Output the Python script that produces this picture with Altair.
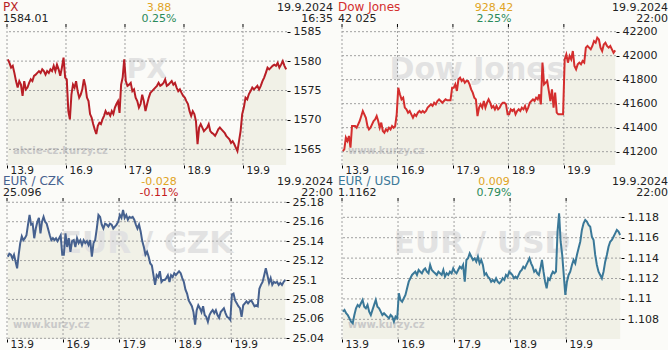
import json
import altair as alt
import pandas as pd

# ---------------- data ----------------
DAY_LABELS = ["13.9", "16.9", "17.9", "18.9", "19.9"]

PX_DAYS = [
    [1580.3, 1579.7, 1578.9, 1579.2, 1578.0, 1576.6, 1575.5, 1576.6, 1576.0, 1574.1, 1576.6, 1575.2,
     1575.5, 1576.3, 1576.9, 1576.6, 1577.5, 1577.7, 1578.0, 1578.3, 1578.0, 1578.6, 1578.3, 1577.7,
     1578.3, 1578.0, 1578.6, 1578.3, 1579.2, 1578.3, 1579.4, 1578.6, 1577.5, 1578.9, 1580.6, 1577.2],
    [1576.9, 1571.5, 1570.1, 1574.3, 1576.0, 1575.5, 1576.6, 1574.9, 1573.8, 1574.3, 1575.2, 1576.9,
     1575.8, 1573.8, 1573.2, 1571.0, 1570.4, 1569.3, 1568.4, 1567.6, 1569.0, 1569.5, 1569.3, 1570.1,
     1570.7, 1571.5, 1571.0, 1571.2, 1570.7, 1571.5, 1571.0, 1572.1, 1572.7, 1573.2, 1571.2, 1576.0,
     1577.2, 1580.3],
    [1576.6, 1575.8, 1576.0, 1576.3, 1574.9, 1575.2, 1573.8, 1573.2, 1572.1, 1572.7, 1574.3, 1573.2,
     1571.5, 1572.7, 1573.8, 1574.6, 1574.9, 1575.2, 1575.5, 1575.8, 1576.3, 1575.8, 1576.0, 1576.3,
     1576.9, 1575.8, 1576.0, 1576.3, 1576.6, 1576.0, 1576.3, 1575.5, 1574.9, 1575.2, 1574.6, 1574.1],
    [1573.8, 1573.2, 1572.7, 1571.5, 1570.7, 1571.5, 1571.0, 1569.8, 1565.9, 1568.7, 1569.3, 1568.7,
     1568.1, 1568.4, 1568.7, 1569.3, 1568.1, 1567.8, 1567.6, 1567.3, 1567.8, 1568.4, 1568.7, 1568.4,
     1568.1, 1567.8, 1567.3, 1567.0, 1566.7, 1566.1, 1566.4, 1565.9, 1565.3, 1564.7, 1566.4, 1568.1,
     1571.0],
    [1572.1, 1573.8, 1573.5, 1574.4, 1574.9, 1575.5, 1575.2, 1575.5, 1575.8, 1575.2, 1575.8, 1576.6,
     1577.2, 1578.0, 1578.9, 1578.6, 1578.9, 1579.2, 1579.4, 1579.2, 1579.7, 1578.9, 1579.4, 1580.0,
     1579.2, 1578.6],
]
PX_LAST_FRAC = 0.746
PX_YDOM = [1562.34, 1585.8]
PX_TICKS = [1565, 1570, 1575, 1580, 1585]

DJ_DAYS = [
    [41206, 41219, 41317, 41289, 41331, 41233, 41414, 41414, 41414, 41400, 41428, 41456, 41497, 41539,
     41511, 41483, 41414, 41386, 41400, 41428, 41456, 41469, 41497, 41456, 41400, 41442, 41372, 41358,
     41386, 41372, 41400, 41386, 41414, 41400, 41414, 41511],
    [41733, 41678, 41636, 41650, 41567, 41553, 41525, 41539, 41511, 41483, 41511, 41497, 41525, 41539,
     41525, 41539, 41525, 41539, 41567, 41581, 41594, 41581, 41608, 41594, 41622, 41636, 41622, 41608,
     41622, 41636, 41628, 41628, 41628, 41733],
    [41733, 41761, 41706, 41803, 41817, 41789, 41803, 41775, 41789, 41789, 41761, 41719, 41692, 41650,
     41636, 41497, 41567, 41594, 41567, 41622, 41567, 41608, 41636, 41608, 41567, 41581, 41553, 41581,
     41553, 41567, 41594, 41608, 41608, 41594, 41511],
    [41511, 41553, 41539, 41553, 41511, 41539, 41553, 41539, 41567, 41553, 41581, 41539, 41567, 41608,
     41622, 41636, 41622, 41650, 41636, 41678, 41594, 41942, 41761, 41775, 41789, 41706, 41622, 41719,
     41567, 41692, 41525, 41511, 41511, 41511, 41511],
    [41969, 42011, 41942, 41997, 41969, 42039, 41914, 41886, 41928, 41942, 41928, 41956, 41942, 42067,
     42081, 42067, 42053, 42081, 42122, 42108, 42150, 42136, 42067, 42039, 42094, 42108, 42081, 42067,
     42081, 42053, 42025, 42044],
]
DJ_LAST_FRAC = 0.94
DJ_YDOM = [41089, 42239]
DJ_TICKS = [41200, 41400, 41600, 41800, 42000, 42200]

CZK_DAYS = [
    [25.124, 25.127, 25.126, 25.122, 25.126, 25.119, 25.112, 25.126, 25.138, 25.145, 25.141, 25.143,
     25.146, 25.157, 25.167, 25.157, 25.158, 25.143, 25.153, 25.160, 25.164, 25.148, 25.160, 25.165,
     25.160, 25.158, 25.152, 25.146, 25.141, 25.143, 25.141, 25.143, 25.140, 25.143, 25.146, 25.126],
    [25.126, 25.148, 25.134, 25.143, 25.129, 25.140, 25.141, 25.134, 25.143, 25.138, 25.141, 25.136,
     25.141, 25.138, 25.140, 25.136, 25.141, 25.124, 25.138, 25.141, 25.153, 25.167, 25.165, 25.157,
     25.153, 25.158, 25.157, 25.155, 25.158, 25.157, 25.153, 25.155, 25.157, 25.160],
    [25.167, 25.164, 25.172, 25.164, 25.167, 25.162, 25.165, 25.164, 25.165, 25.162, 25.157, 25.153,
     25.157, 25.150, 25.140, 25.134, 25.126, 25.129, 25.124, 25.117, 25.115, 25.105, 25.095, 25.105,
     25.103, 25.109, 25.098, 25.100, 25.100, 25.102, 25.105, 25.098, 25.105, 25.103, 25.107],
    [25.105, 25.107, 25.109, 25.107, 25.102, 25.098, 25.090, 25.086, 25.079, 25.076, 25.073, 25.067,
     25.054, 25.069, 25.074, 25.071, 25.067, 25.073, 25.064, 25.062, 25.057, 25.064, 25.067, 25.069,
     25.066, 25.069, 25.064, 25.061, 25.067, 25.069, 25.071, 25.066, 25.062, 25.061, 25.059],
    [25.085, 25.086, 25.079, 25.076, 25.073, 25.071, 25.062, 25.074, 25.076, 25.078, 25.076, 25.078,
     25.079, 25.076, 25.073, 25.074, 25.073, 25.091, 25.095, 25.098, 25.105, 25.112, 25.105, 25.097,
     25.102, 25.095, 25.098, 25.097, 25.098, 25.095, 25.097, 25.095, 25.098, 25.100],
]
CZK_LAST_FRAC = 0.98
CZK_YDOM = [25.0393, 25.1813]
CZK_TICKS = [25.04, 25.06, 25.08, 25.10, 25.12, 25.14, 25.16, 25.18]

USD_DAYS = [
    [1.10875, 1.10892, 1.10859, 1.10842, 1.10810, 1.10777, 1.10761, 1.10842, 1.10908, 1.10941, 1.10924,
     1.10957, 1.10990, 1.10924, 1.10908, 1.10941, 1.10875, 1.10842, 1.10892, 1.10941, 1.10990, 1.10924,
     1.10908, 1.10875, 1.10842, 1.10859, 1.10842, 1.10826, 1.10810, 1.10842, 1.10826, 1.10777, 1.10826,
     1.10810],
    [1.11055, 1.10990, 1.10973, 1.11006, 1.11039, 1.11104, 1.11169, 1.11202, 1.11235, 1.11251, 1.11267,
     1.11235, 1.11284, 1.11267, 1.11251, 1.11284, 1.11300, 1.11267, 1.11251, 1.11333, 1.11284, 1.11267,
     1.11251, 1.11235, 1.11267, 1.11251, 1.11235, 1.11284, 1.11218, 1.11251, 1.11235, 1.11267, 1.11251,
     1.11300],
    [1.11267, 1.11251, 1.11284, 1.11316, 1.11300, 1.11333, 1.11169, 1.11382, 1.11398, 1.11447, 1.11414,
     1.11382, 1.11398, 1.11365, 1.11414, 1.11349, 1.11382, 1.11333, 1.11235, 1.11251, 1.11218, 1.11202,
     1.11169, 1.11186, 1.11169, 1.11202, 1.11169, 1.11153, 1.11169, 1.11202, 1.11186, 1.11235, 1.11218,
     1.11267],
    [1.11251, 1.11235, 1.11202, 1.11218, 1.11202, 1.11235, 1.11267, 1.11284, 1.11316, 1.11300, 1.11333,
     1.11365, 1.11398, 1.11349, 1.11316, 1.11267, 1.11284, 1.11251, 1.11235, 1.11300, 1.11382, 1.11267,
     1.11169, 1.11104, 1.11202, 1.11186, 1.11235, 1.11267, 1.11251, 1.11267, 1.11660, 1.11839, 1.11561,
     1.11431, 1.11235, 1.11039],
    [1.11169, 1.11235, 1.11267, 1.11333, 1.11382, 1.11349, 1.11431, 1.11496, 1.11561, 1.11676, 1.11741,
     1.11774, 1.11758, 1.11725, 1.11708, 1.11610, 1.11578, 1.11431, 1.11333, 1.11267, 1.11235, 1.11202,
     1.11267, 1.11365, 1.11431, 1.11512, 1.11561, 1.11578, 1.11610, 1.11643, 1.11676, 1.11660, 1.11627],
]
USD_LAST_FRAC = 0.98
USD_YDOM = [1.10607, 1.1196]
USD_TICKS = [1.108, 1.110, 1.112, 1.114, 1.116, 1.118]

# header texts: name, last value, change, change %, date, time
PX_HEAD = ["PX", "1584.01", "3.88", "0.25%", "19.9.2024", "16:35"]
DJ_HEAD = ["Dow Jones", "42 025", "928.42", "2.25%", "19.9.2024", "22:00"]
CZK_HEAD = ["EUR / CZK", "25.096", "-0.028", "-0.11%", "19.9.2024", "22:00"]
USD_HEAD = ["EUR / USD", "1.1162", "0.009", "0.79%", "19.9.2024", "22:00"]

# ---------------- style ----------------
FONT = "DejaVu Sans"
BG = "#fbfbf8"
FILL = "#f1f1e7"
DARK = "#222222"
ORANGE = "#e0a424"
GREEN = "#2a8a5a"
RED_PCT = "#c41a22"
GRID = "#a0a0a0"
H = 138


def series_frame(days, last_frac):
    xs, ys = [], []
    for d, vals in enumerate(days):
        n = len(vals)
        span = last_frac if d == len(days) - 1 else 1.0
        for i, v in enumerate(vals):
            xs.append(d + span * (i + 0.5) / n)
            ys.append(v)
    return pd.DataFrame({"x": xs, "y": ys})


def text_layer(txt, x, y, color, size=11, align="left", weight="normal", baseline="alphabetic"):
    return alt.Chart(pd.DataFrame({"t": [txt]})).mark_text(
        font=FONT, fontSize=size, color=color, align=align, baseline=baseline, fontWeight=weight
    ).encode(text="t:N", x=alt.value(x), y=alt.value(y))


def panel(days, last_frac, ydom, yticks, yfmt, width, head, title_color, line_color, pct_color,
          wm_big, wm_size, wm_x, wm_small):
    df = series_frame(days, last_frac)
    label_expr = json.dumps(DAY_LABELS) + "[datum.value]"
    xs = alt.X("x:Q", title=None,
               scale=alt.Scale(domain=[0, len(days) - 1 + last_frac], nice=False, zero=False),
               axis=alt.Axis(values=list(range(len(days))), labelExpr=label_expr, grid=False,
                             domain=False, tickColor="black", tickSize=3, tickWidth=1,
                             labelAlign="left", labelOffset=3, labelPadding=5,
                             labelBaseline="alphabetic",
                             labelFont=FONT, labelFontSize=10.5, labelColor=DARK,
                             labelFlush=False, labelOverlap=False, labelBound=False))
    ys = alt.Y("y:Q", title=None,
               scale=alt.Scale(domain=ydom, nice=False, zero=False),
               axis=alt.Axis(orient="right", values=yticks, format=yfmt, grid=False, domain=False,
                             tickColor="black", tickSize=3, labelPadding=3, labelFont=FONT,
                             labelFontSize=11, labelColor=DARK, labelOverlap=False,
                             labelFlush=False))
    day_df = pd.DataFrame({"x": list(range(len(days)))})
    tick_df = pd.DataFrame({"y": yticks})

    area = alt.Chart(df).mark_area(color=FILL, clip=True).encode(x=xs, y=ys)
    wm1 = text_layer(wm_big, wm_x, 43, "#e2e2e2", size=wm_size, align="center",
                     weight="bold", baseline="middle")
    wm2 = text_layer(wm_small, 6, 127, "#c9c9c9", size=10, weight="bold")
    vgrid = alt.Chart(day_df).mark_rule(color=GRID, strokeDash=[2, 2], strokeWidth=1).encode(x=xs)
    hgrid = alt.Chart(tick_df).mark_rule(color=GRID, strokeDash=[2, 2], strokeWidth=1).encode(y=ys)
    line = alt.Chart(df).mark_line(color=line_color, strokeWidth=2, clip=True,
                                   interpolate="linear").encode(x=xs, y=ys)
    topticks = alt.Chart(day_df).mark_rule(color="black", strokeWidth=1).encode(
        x=xs, y=alt.value(-3), y2=alt.value(0))
    h_name = text_layer(head[0], -4, -16, title_color, size=12)
    h_last = text_layer(head[1], -4, -5, DARK, size=11)
    h_chg = text_layer(head[2], 152, -16, ORANGE, size=11, align="center")
    h_pct = text_layer(head[3], 152, -5, pct_color, size=11, align="center")
    h_date = text_layer(head[4], 326, -16, DARK, size=11, align="right")
    h_time = text_layer(head[5], 326, -5, DARK, size=11, align="right")
    return alt.layer(area, wm1, wm2, vgrid, hgrid, line, topticks,
                     h_name, h_last, h_chg, h_pct, h_date, h_time).properties(width=width, height=H)


p1 = panel(PX_DAYS, PX_LAST_FRAC, PX_YDOM, PX_TICKS, "d", 280, PX_HEAD, "#b81e26", "#b81e26", GREEN,
           "PX", 27, 140, "akcie-cz.kurzy.cz")
p2 = panel(DJ_DAYS, DJ_LAST_FRAC, DJ_YDOM, DJ_TICKS, "d", 274, DJ_HEAD, "#d42e2e", "#d42e2e", GREEN,
           "Dow Jones", 30, 135, "www.kurzy.cz")
p3 = panel(CZK_DAYS, CZK_LAST_FRAC, CZK_YDOM, CZK_TICKS, "~g", 279, CZK_HEAD, "#46618f", "#46618f",
           RED_PCT, "EUR / CZK", 31, 140, "www.kurzy.cz")
p4 = panel(USD_DAYS, USD_LAST_FRAC, USD_YDOM, USD_TICKS, "~g", 279, USD_HEAD, "#3a7898", "#3a7898",
           GREEN, "EUR / USD", 31, 140, "www.kurzy.cz")

chart = alt.concat(p1, p2, p3, p4, columns=2,
                   spacing=alt.RowColnumber(row=36, column=55)).properties(
    bounds="flush",
    background=BG,
    padding={"left": 3, "top": 1, "right": 0, "bottom": 0},
).configure_view(stroke=None).configure_text(font=FONT)

chart.save("out.html", embed_options={"renderer": "svg", "actions": False})
